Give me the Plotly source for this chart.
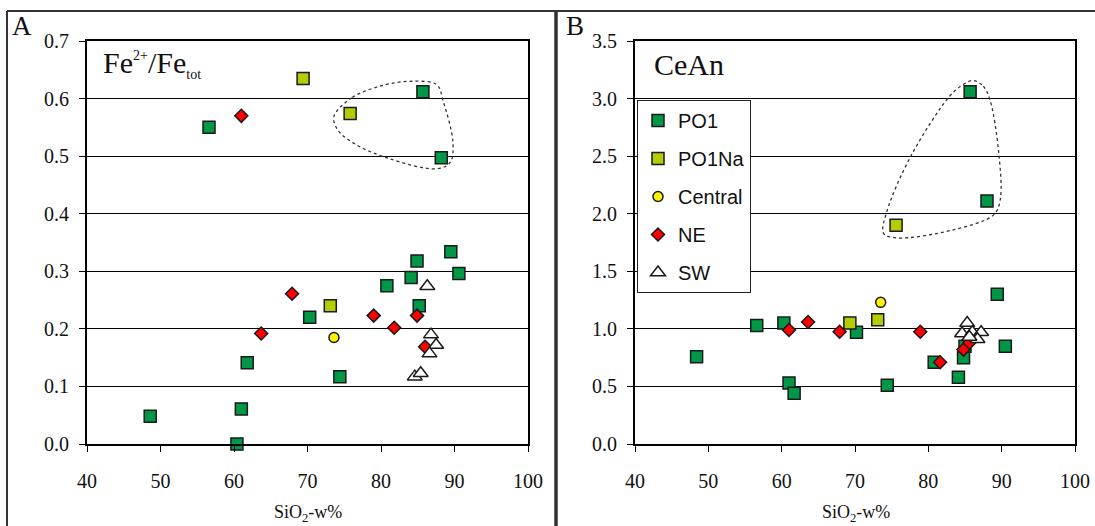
import plotly.graph_objects as go

# ---------------- data ----------------
# Panel A: Fe2+/Fetot vs SiO2
po1_si_a = [48.6, 56.6, 60.4, 61.0, 61.8, 70.3, 74.4, 80.8, 84.1, 84.9, 85.2, 89.5, 90.6, 85.7, 88.2]
po1_fe = [0.048, 0.550, 0.000, 0.061, 0.141, 0.220, 0.117, 0.275, 0.289, 0.318, 0.240, 0.334, 0.296, 0.612, 0.497]
po1na_si_a = [69.4, 73.1, 75.8]
po1na_fe = [0.635, 0.240, 0.574]
central_si_a = [73.6]
central_fe = [0.185]
ne_si_a = [61.0, 63.7, 67.9, 79.0, 81.8, 84.9, 86.0]
ne_fe = [0.570, 0.192, 0.261, 0.223, 0.202, 0.223, 0.169]
sw_si_a = [86.3, 86.8, 87.5, 86.6, 84.6, 85.4]
sw_fe = [0.274, 0.190, 0.172, 0.157, 0.117, 0.123]

# Panel B: CeAn vs SiO2
po1_si_b = [48.4, 56.6, 60.3, 61.0, 61.7, 70.2, 74.4, 80.8, 84.1, 84.8, 85.0, 89.4, 90.5, 85.7, 88.0]
po1_cean = [0.757, 1.03, 1.05, 0.53, 0.44, 0.97, 0.51, 0.71, 0.58, 0.75, 0.85, 1.30, 0.85, 3.06, 2.11]
po1na_si_b = [69.3, 73.1, 75.6]
po1na_cean = [1.05, 1.08, 1.90]
central_si_b = [73.5]
central_cean = [1.23]
ne_si_b = [61.0, 63.6, 67.9, 78.9, 81.6, 84.8, 85.6]
ne_cean = [0.99, 1.06, 0.975, 0.975, 0.71, 0.82, 0.88]
sw_si_b = [85.3, 84.6, 86.0, 87.2, 86.7, 85.6]
sw_cean = [1.05, 0.96, 0.97, 0.97, 0.91, 0.93]

# dotted outlines (hand-drawn loops)
loop_a_x = [73.6, 76.1, 80.0, 83.9, 87.6, 88.4, 89.8, 89.4, 87.6, 80.8, 76.2, 74.1, 73.6]
loop_a_y = [0.569, 0.602, 0.622, 0.630, 0.624, 0.598, 0.523, 0.489, 0.478, 0.497, 0.523, 0.546, 0.569]
loop_b_x = [86.15, 87.5, 88.4, 89.6, 89.8, 88.9, 83.4, 75.7, 73.9, 74.3, 77.7, 82.9, 84.7, 86.15]
loop_b_y = [3.157, 3.107, 2.99, 2.53, 2.12, 1.99, 1.86, 1.79, 1.83, 2.01, 2.51, 3.02, 3.12, 3.157]

series_names = ["PO1", "PO1Na", "Central", "NE", "SW"]
A_ticks = [0.0, 0.1, 0.2, 0.3, 0.4, 0.5, 0.6, 0.7]
B_ticks = [0.0, 0.5, 1.0, 1.5, 2.0, 2.5, 3.0, 3.5]
x_ticks = [40, 50, 60, 70, 80, 90, 100]

# ---------------- styles ----------------
W, H = 1095, 526
EDGE = "#1a1a1a"
styles = {
    "PO1": dict(symbol="square", color="#009846", size=12),
    "PO1Na": dict(symbol="square", color="#B4CC00", size=12),
    "Central": dict(symbol="circle", color="#FFF200", size=10),
    "NE": dict(symbol="diamond", color="#FF0000", size=10),
    "SW": dict(symbol="triangle-up", color="#FFFFFF", size=13),
}

fig = go.Figure()

def add_loop(xs, ys, xa, ya):
    fig.add_trace(go.Scatter(x=xs, y=ys, mode="lines", xaxis=xa, yaxis=ya,
                             line=dict(color="#333333", width=1.3, dash="dot", shape="spline", smoothing=1.0),
                             showlegend=False, hoverinfo="skip"))

add_loop(loop_a_x, loop_a_y, "x", "y")
add_loop(loop_b_x, loop_b_y, "x2", "y2")

panel_a = [(po1_si_a, po1_fe), (po1na_si_a, po1na_fe), (central_si_a, central_fe), (ne_si_a, ne_fe), (sw_si_a, sw_fe)]
panel_b = [(po1_si_b, po1_cean), (po1na_si_b, po1na_cean), (central_si_b, central_cean), (ne_si_b, ne_cean), (sw_si_b, sw_cean)]

for name, (xs, ys) in zip(series_names, panel_a):
    s = styles[name]
    fig.add_trace(go.Scatter(x=xs, y=ys, mode="markers", name=name, xaxis="x", yaxis="y",
                             marker=dict(symbol=s["symbol"], color=s["color"], size=s["size"],
                                         line=dict(color=EDGE, width=1.5)),
                             cliponaxis=False, showlegend=False))
for name, (xs, ys) in zip(series_names, panel_b):
    s = styles[name]
    fig.add_trace(go.Scatter(x=xs, y=ys, mode="markers", name=name, xaxis="x2", yaxis="y2",
                             legendgroup=name,
                             marker=dict(symbol=s["symbol"], color=s["color"], size=s["size"],
                                         line=dict(color=EDGE, width=1.5)),
                             cliponaxis=False, showlegend=True))

SERIF = "Liberation Serif, Times New Roman, serif"
TICKFONT = dict(family=SERIF, size=20, color="#111")

def px_x(p):
    return p / W

def px_y(p):
    return 1 - p / H

ydom = [px_y(444), px_y(41)]
axis_common = dict(showline=True, linecolor="#000", linewidth=2, mirror=True, zeroline=False,
                   ticks="outside", ticklen=6, tickcolor="#000", tickwidth=1.2, tickfont=TICKFONT,
                   automargin=False)

fig.update_layout(
    template="none",
    width=W, height=H,
    margin=dict(l=0, r=0, t=0, b=0, pad=0),
    paper_bgcolor="white", plot_bgcolor="white",
    xaxis=dict(domain=[px_x(87), px_x(528)], range=[40, 100], tickvals=x_ticks, showgrid=False,
               anchor="y", ticklabelstandoff=12, **axis_common),
    yaxis=dict(domain=ydom, range=[0, 0.7], tickvals=A_ticks, tickformat=".1f", showgrid=True,
               gridcolor="#000", gridwidth=1, anchor="x", ticklabelstandoff=6, **axis_common),
    xaxis2=dict(domain=[px_x(635), px_x(1075)], range=[40, 100], tickvals=x_ticks, showgrid=False,
                anchor="y2", ticklabelstandoff=12, **axis_common),
    yaxis2=dict(domain=ydom, range=[0, 3.5], tickvals=B_ticks, tickformat=".1f", showgrid=True,
                gridcolor="#000", gridwidth=1, anchor="x2", ticklabelstandoff=6, **axis_common),
    legend=dict(x=px_x(637), y=px_y(100), xanchor="left", yanchor="top",
                bgcolor="white", bordercolor="#222", borderwidth=1,
                font=dict(family="Liberation Sans, Arial, sans-serif", size=20, color="#111"),
                tracegroupgap=9, itemwidth=30),
    showlegend=True,
)

# panel frames
frame = dict(color="#333", width=2)
fig.add_shape(type="line", xref="paper", yref="paper", x0=px_x(7), x1=1, y0=px_y(11), y1=px_y(11), line=frame)
fig.add_shape(type="line", xref="paper", yref="paper", x0=px_x(7), x1=px_x(7), y0=px_y(11), y1=0, line=frame)
fig.add_shape(type="line", xref="paper", yref="paper", x0=px_x(556), x1=px_x(556), y0=px_y(11), y1=0,
              line=dict(color="#333", width=3.5))

SMALL = "<span style='font-size:14px'>"
ann = [
    dict(text="A", x=px_x(10), y=px_y(26), xanchor="left", font=dict(family=SERIF, size=27, color="#111")),
    dict(text="B", x=px_x(564), y=px_y(26), xanchor="left", font=dict(family=SERIF, size=27, color="#111")),
    dict(text="Fe<sup>" + SMALL + "2+</span></sup>/Fe<sub>" + SMALL + "tot</span></sub>",
         x=px_x(101), y=px_y(64), xanchor="left", font=dict(family=SERIF, size=30, color="#111")),
    dict(text="CeAn", x=px_x(652), y=px_y(64), xanchor="left", font=dict(family=SERIF, size=30, color="#111")),
    dict(text="SiO<sub>2</sub>-w%", x=px_x(308), y=px_y(513), xanchor="center",
         font=dict(family=SERIF, size=18, color="#111")),
    dict(text="SiO<sub>2</sub>-w%", x=px_x(856), y=px_y(513), xanchor="center",
         font=dict(family=SERIF, size=18, color="#111")),
]
for a in ann:
    fig.add_annotation(xref="paper", yref="paper", yanchor="middle", showarrow=False, **a)

fig.write_html("out.html")
